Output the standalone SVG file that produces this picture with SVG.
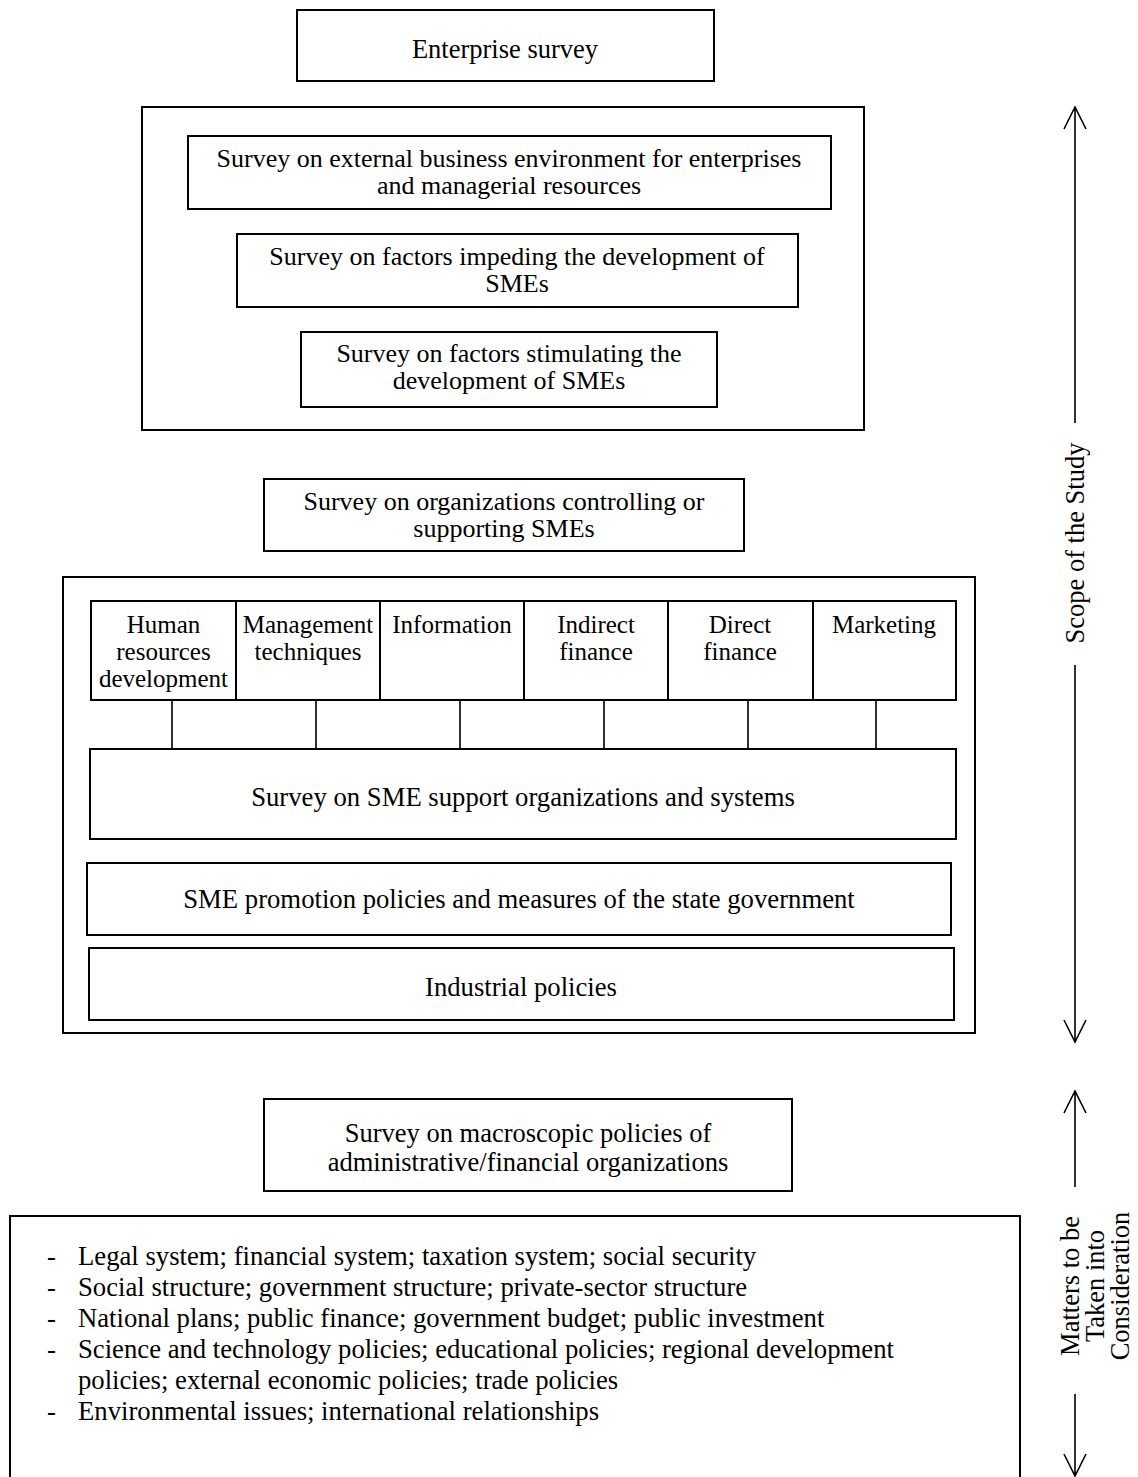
<svg xmlns="http://www.w3.org/2000/svg" width="1138" height="1477" viewBox="0 0 1138 1477">
<style>
text{font-family:"Liberation Serif","Times New Roman",serif;font-size:26.5px;fill:#000;}
.c{text-anchor:middle;}
.s{font-size:25px;}
.t{font-size:26px;}
.l{font-size:26.7px;}
.box{fill:#fff;stroke:#000;stroke-width:2;}
.ln{fill:none;stroke:#000;stroke-width:1.6;}
</style>
<rect width="1138" height="1477" fill="#fff"/>
<g id="enterprise-survey">
<rect class="box" x="297" y="10" width="417" height="71"/>
<text class="c" x="505" y="58">Enterprise survey</text>
</g>
<g id="enterprise-group">
<rect class="box" x="142" y="107" width="722" height="323"/>
</g>
<g id="external-env">
<rect class="box" x="188" y="136" width="643" height="73"/>
<text class="c t" x="509" y="167">Survey on external business environment for enterprises</text>
<text class="c t" x="509" y="194">and managerial resources</text>
</g>
<g id="impeding">
<rect class="box" x="237" y="234" width="561" height="73"/>
<text class="c t" x="517" y="265">Survey on factors impeding the development of</text>
<text class="c t" x="517" y="292">SMEs</text>
</g>
<g id="stimulating">
<rect class="box" x="301" y="332" width="416" height="75"/>
<text class="c t" x="509" y="362">Survey on factors stimulating the</text>
<text class="c t" x="509" y="389">development of SMEs</text>
</g>
<g id="org-survey">
<rect class="box" x="264" y="479" width="480" height="72"/>
<text class="c t" x="504" y="510">Survey on organizations controlling or</text>
<text class="c t" x="504" y="537">supporting SMEs</text>
</g>
<g id="support-group">
<rect class="box" x="63" y="577" width="912" height="456"/>
</g>
<g id="cell-hr">
<rect class="box" x="91" y="601" width="145" height="99"/>
<text class="c s" x="163.5" y="633">Human</text>
<text class="c s" x="163.5" y="660">resources</text>
<text class="c s" x="163.5" y="687">development</text>
</g>
<g id="cell-mgmt">
<rect class="box" x="236" y="601" width="144" height="99"/>
<text class="c s" x="308" y="633">Management</text>
<text class="c s" x="308" y="660">techniques</text>
</g>
<g id="cell-info">
<rect class="box" x="380" y="601" width="144" height="99"/>
<text class="c s" x="452" y="633">Information</text>
</g>
<g id="cell-indirect">
<rect class="box" x="524" y="601" width="144" height="99"/>
<text class="c s" x="596" y="633">Indirect</text>
<text class="c s" x="596" y="660">finance</text>
</g>
<g id="cell-direct">
<rect class="box" x="668" y="601" width="145" height="99"/>
<text class="c s" x="740" y="633">Direct</text>
<text class="c s" x="740" y="660">finance</text>
</g>
<g id="cell-marketing">
<rect class="box" x="813" y="601" width="143" height="99"/>
<text class="c s" x="884" y="633">Marketing</text>
</g>
<g id="sme-support">
<rect class="box" x="90" y="749" width="866" height="90"/>
<text class="c l" x="523" y="806">Survey on SME support organizations and systems</text>
</g>
<g id="sme-promotion">
<rect class="box" x="87" y="863" width="864" height="72"/>
<text class="c l" x="519" y="908">SME promotion policies and measures of the state government</text>
</g>
<g id="industrial">
<rect class="box" x="89" y="948" width="865" height="72"/>
<text class="c l" x="521" y="996">Industrial policies</text>
</g>
<g id="macro-survey">
<rect class="box" x="264" y="1099" width="528" height="92"/>
<text class="c" x="528" y="1142">Survey on macroscopic policies of</text>
<text class="c" x="528" y="1171">administrative/financial organizations</text>
</g>
<g id="matters-box">
<rect class="box" x="10" y="1216" width="1010" height="280"/>
<text class="l" x="47" y="1265">-</text><text class="l" x="78" y="1265">Legal system; financial system; taxation system; social security</text>
<text class="l" x="47" y="1296">-</text><text class="l" x="78" y="1296">Social structure; government structure; private-sector structure</text>
<text class="l" x="47" y="1327">-</text><text class="l" x="78" y="1327">National plans; public finance; government budget; public investment</text>
<text class="l" x="47" y="1358">-</text><text class="l" x="78" y="1358">Science and technology policies; educational policies; regional development</text>
<text class="l" x="78" y="1389">policies; external economic policies; trade policies</text>
<text class="l" x="47" y="1420">-</text><text class="l" x="78" y="1420">Environmental issues; international relationships</text>
</g>
<g id="scope-label">
<text class="c" transform="translate(1084,543) rotate(-90)">Scope of the Study</text>
</g>
<g id="matters-label">
<text class="c" transform="translate(1079,1286) rotate(-90)">Matters to be</text>
<text class="c" transform="translate(1104,1286) rotate(-90)">Taken into</text>
<text class="c" transform="translate(1129,1286) rotate(-90)">Consideration</text>
</g>
<g id="connectors">
<path class="ln" d="M172 700V749M316 700V749M460 700V749M604 700V749M748 700V749M876 700V749"/>
<path class="ln" d="M1075 108V423M1064 129L1075 107L1086 129"/>
<path class="ln" d="M1075 665V1041M1064 1020L1075 1042L1086 1020"/>
<path class="ln" d="M1075 1092V1187M1064 1113L1075 1091L1086 1113"/>
<path class="ln" d="M1075 1394V1475M1064 1454L1075 1476L1086 1454"/>
</g>
</svg>
